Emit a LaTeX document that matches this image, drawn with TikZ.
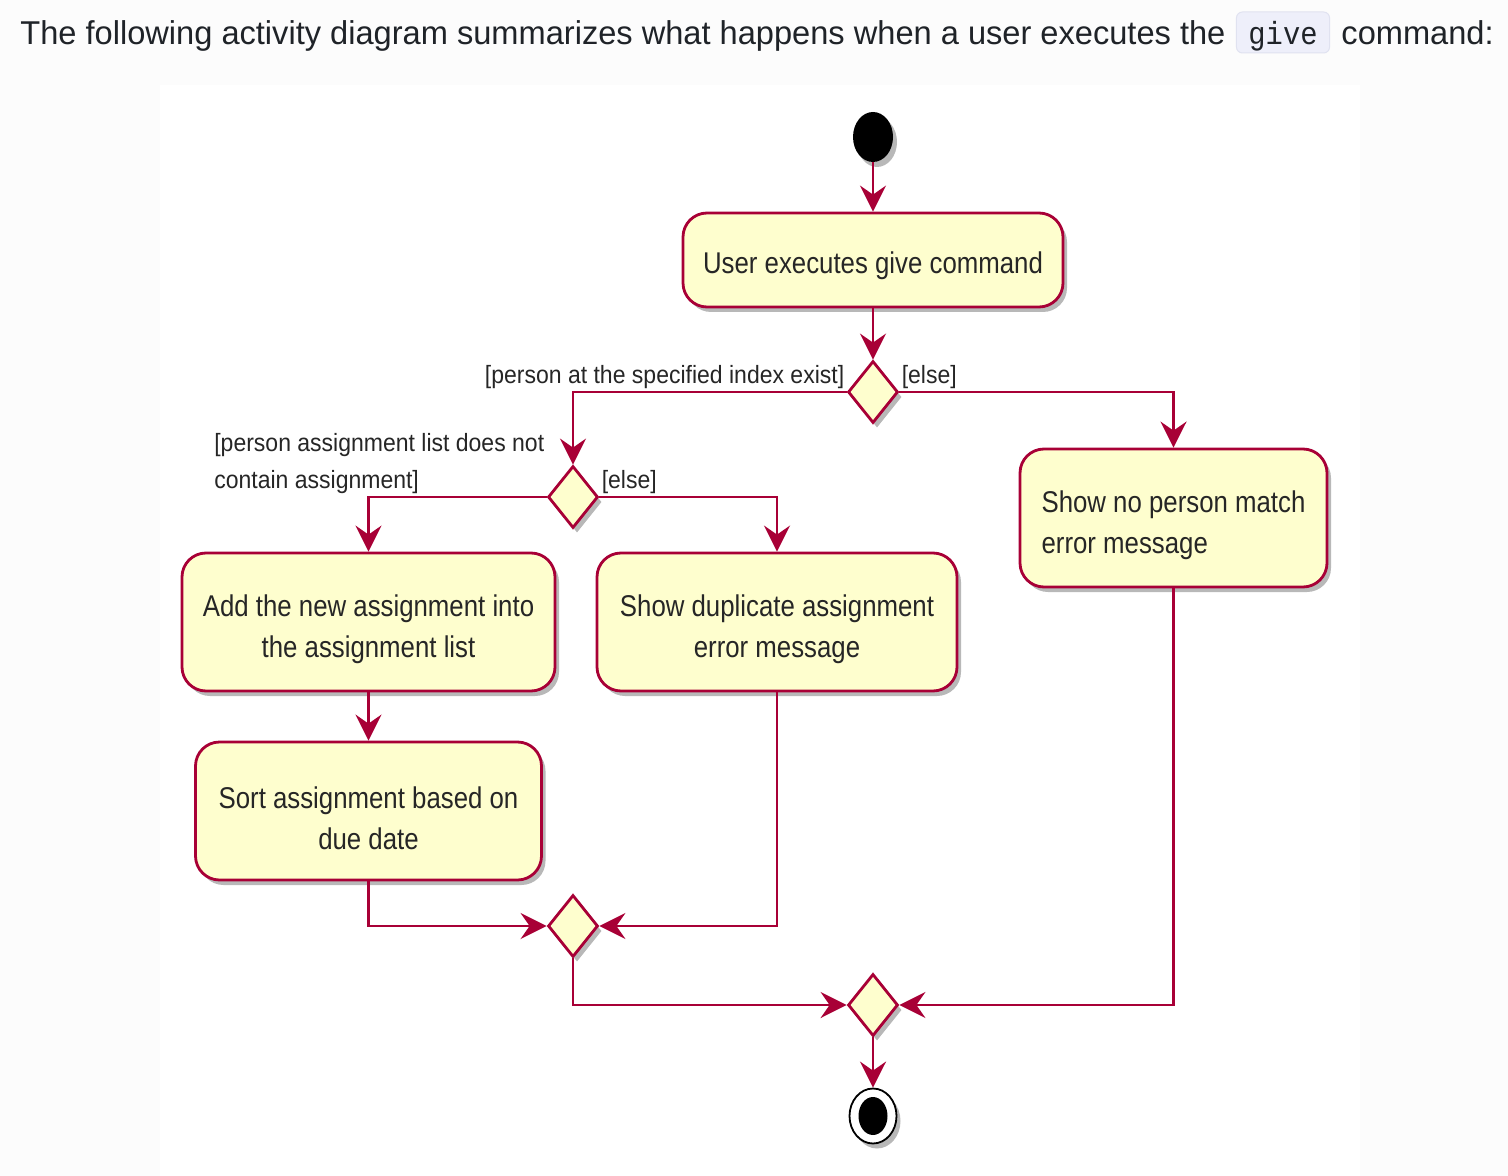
\documentclass[tikz,border=0pt]{standalone}
\usepackage{fontspec}
\setmainfont{Liberation Sans}
\newfontfamily\umlfont[FakeStretch=0.86]{Liberation Sans}
\newfontfamily\guardfont[FakeStretch=0.92]{Liberation Sans}
\newfontfamily\headfont[FakeStretch=0.988]{Liberation Sans}
\newfontfamily\codefont[FakeStretch=0.9]{Liberation Mono}
\usepackage{tikz}
\usetikzlibrary{arrows.meta,positioning,shapes.geometric,shadows,calc}
\usepackage{xcolor}
\definecolor{umlred}{HTML}{A80036}
\definecolor{umlfill}{HTML}{FEFECE}
\definecolor{pagebg}{HTML}{FCFCFC}
\definecolor{codebg}{HTML}{EEEFFA}
\definecolor{codeborder}{HTML}{E0E2F0}
\definecolor{inktext}{HTML}{1F2328}

\begin{document}
\begin{tikzpicture}[
  x=0.5pt, y=-0.5pt,
  >={Stealth[length=13pt,width=13pt,inset=4.5pt]},
  softshadow/.style={
    drop shadow={shadow xshift=2pt, shadow yshift=-2.5pt, opacity=0.28, fill=black}
  },
  actbox/.style={
    draw=umlred,
    fill=umlfill,
    line width=1.4pt,
    rounded corners=12pt,
    inner sep=0pt,
    align=center,
    text=black!85,
    text height=38.5pt,
    font=\umlfont\fontsize{15}{20.5}\selectfont,
    softshadow
  },
  choice/.style={
    diamond,
    draw=umlred,
    fill=umlfill,
    line width=1.4pt,
    inner sep=0pt,
    minimum width=25pt,
    minimum height=31pt,
    softshadow
  },
  startdot/.style={
    ellipse,
    fill=black,
    inner sep=0pt,
    minimum width=20pt,
    minimum height=25pt,
    softshadow
  },
  stopdot/.style={
    ellipse,
    draw=black,
    fill=white,
    line width=0.9pt,
    inner sep=0pt,
    minimum width=23.5pt,
    minimum height=27.5pt,
    softshadow,
    path picture={\fill[black] (path picture bounding box.center) ellipse [x radius=7.25pt, y radius=9.5pt];}
  },
  flow/.style={
    ->,
    line width=1.4pt,
    draw=umlred
  },
  guard/.style={
    font=\guardfont\fontsize{12.5}{18.5}\selectfont,
    text=black!85,
    inner sep=1pt,
    inner xsep=0.5pt
  },
  headtext/.style={
    font=\headfont\fontsize{16.5}{20}\selectfont,
    text=inktext,
    inner sep=0pt
  },
  codebox/.style={
    font=\codefont\fontsize{16}{20}\selectfont,
    fill=codebg,
    draw=codeborder,
    line width=0.5pt,
    rounded corners=3pt,
    text=inktext,
    inner sep=0pt,
    inner xsep=6pt,
    text height=16.5pt,
    text depth=4pt
  }
]

  % ----------------------------------------------------
  % PAGE AND PANEL
  % ----------------------------------------------------
  \useasboundingbox (0,0) rectangle (1508,1176);
  \fill[pagebg] (0,0) rectangle (1508,1176);
  \fill[white] (160,85) rectangle (1360,1176);

  % Heading line
  \node[headtext, anchor=base west] (intro) at (20,45) {The following activity diagram summarizes what happens when a user executes the};
  \node[codebox, anchor=base west] (givecode) at ($(intro.base east)+(10,0)$) {give};
  \node[headtext, anchor=base west] (outro) at ($(givecode.base east)+(11,0)$) {command:};

  % ----------------------------------------------------
  % ACTIVITY NODES
  % ----------------------------------------------------
  \node[startdot] (start) at (873,137) {};

  \node[actbox, text height=17pt, minimum width=190pt, minimum height=47pt] (give) at (873,260) {User executes give command};

  \node[choice] (hasperson) at (873,392) {};
  \node[choice] (noduplicate) at (573,497) {};

  \node[actbox, minimum width=186.5pt, minimum height=69pt] (addasg) at (368.5,622) {Add the new assignment into\\the assignment list};
  \node[actbox, minimum width=180pt, minimum height=69pt] (dupmsg) at (777,622) {Show duplicate assignment\\error message};
  \node[actbox, align=left, minimum width=153.5pt, minimum height=69pt] (nomatch) at (1173.5,518) {Show no person match\\error message};
  \node[actbox, minimum width=173pt, minimum height=69pt] (sortasg) at (368.5,811) {Sort assignment based on\\due date};

  \node[choice] (mergeasg) at (573,926) {};
  \node[choice] (mergeall) at (873,1005) {};

  \node[stopdot] (stop) at (873,1116) {};

  % ----------------------------------------------------
  % CONNECTORS
  % ----------------------------------------------------
  \draw[flow] (start) -- (give);
  \draw[flow] (give) -- (hasperson);

  % Branch on person index
  \draw[flow] (hasperson.west) -| (noduplicate.north)
    node[pos=0, guard, anchor=south east] {[person at the specified index exist]};
  \draw[flow] (hasperson.east) -| (nomatch.north)
    node[pos=0, guard, anchor=south west] {[else]};

  % Branch on duplicate assignment
  \draw[flow] (noduplicate.west) -| (addasg.north)
    node[pos=0, guard, anchor=south east, align=left] {[person assignment list does not\\contain assignment]};
  \draw[flow] (noduplicate.east) -| (dupmsg.north)
    node[pos=0, guard, anchor=south west] {[else]};

  \draw[flow] (addasg) -- (sortasg);

  % Merges
  \draw[flow] (sortasg.south) |- (mergeasg.west);
  \draw[flow] (dupmsg.south) |- (mergeasg.east);
  \draw[flow] (mergeasg.south) |- (mergeall.west);
  \draw[flow] (nomatch.south) |- (mergeall.east);

  \draw[flow] (mergeall) -- (stop);

\end{tikzpicture}
\end{document}
